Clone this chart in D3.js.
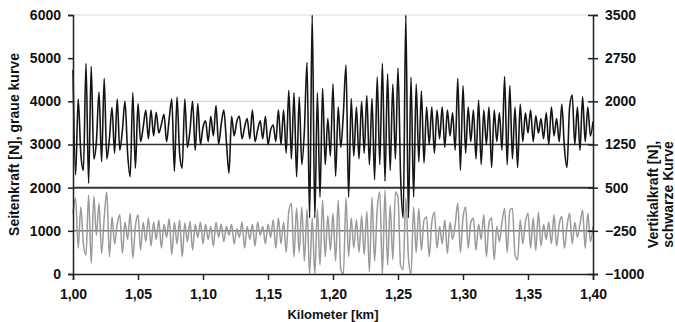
<!DOCTYPE html>
<html>
<head>
<meta charset="utf-8">
<script src="https://cdn.jsdelivr.net/npm/d3@7"></script>
<style>
	body { margin: 0; background: #fff; }
	text { font-family: "Liberation Sans", Arial, sans-serif; font-weight: bold; fill: #111; }
</style>
</head>
<body>
<svg id="chart" width="675" height="322"></svg>
<script>

// Sampling of the track (km), both curves share it:
var kmStart = 1.00;
var kmStep = 0.002;

// Seitenkraft [N] (grey curve, left axis):
var seitenkraft = [
	1400, 1760, 600, 1550, 700, 440, 1830, 250, 1800, 900,
	1640, 480, 1300, 1900, 400, 1320, 700, 1150, 1370, 480,
	1200, 800, 1410, 370, 1100, 1370, 560, 1200, 750, 1300,
	650, 1200, 800, 1250, 600, 1150, 850, 1280, 450, 1200,
	700, 1250, 400, 1180, 750, 1220, 550, 1150, 850, 1200,
	700, 1150, 800, 1100, 650, 1200, 850, 1150, 750, 1100,
	900, 1150, 700, 1050, 850, 1200, 600, 1100, 800, 1150,
	650, 1200, 900, 1100, 700, 1150, 850, 1250, 600, 1300,
	700, 1200, 500, 1450, 1640, 400, 1530, 500, 1550, 300,
	1500, 0, 1300, 0, 1500, 200, 1710, 400, 1350, 550,
	1410, 300, 1710, 100, 0, 1760, 400, 1300, 600, 1250,
	500, 1350, 450, 1450, 50, 1780, 300, 1500, 1900, 0,
	1940, 200, 1600, 330, 1900, 1780, 200, 100, 1760, 400,
	0, 1550, 500, 1520, 550, 1250, 1320, 400, 1200, 1430,
	600, 1100, 700, 1250, 480, 1200, 800, 1150, 1640, 500,
	1300, 1550, 600, 1200, 1290, 550, 1150, 800, 1370, 400,
	1200, 1300, 330, 1100, 750, 1200, 1520, 500, 1480, 1520,
	450, 330, 1250, 700, 1200, 1410, 600, 1300, 550, 1430,
	650, 1150, 800, 1200, 700, 1370, 650, 1150, 1330, 600,
	1100, 1410, 700, 1200, 850, 1150, 1480, 600, 1410, 750,
	1100
];

// Vertikalkraft [N] (black curve, right axis):
var vertikalkraft = [
	2550, 720, 2040, 1100, 800, 2660, 575, 2610, 1000, 1300,
	2160, 950, 2400, 1000, 1350, 1890, 1100, 2040, 1150, 1500,
	2000, 1100, 690, 2150, 840, 1960, 1300, 1550, 1850, 1350,
	1850, 1400, 1810, 1450, 1600, 1775, 1300, 1700, 2040, 785,
	2075, 1100, 840, 2040, 1200, 1500, 2000, 1150, 1960, 1250,
	1550, 1660, 1300, 1740, 1400, 1925, 1250, 1600, 1850, 1300,
	750, 1740, 1400, 1650, 1740, 1350, 1550, 1700, 1350, 1850,
	1300, 1500, 1660, 1350, 1740, 1250, 1500, 1590, 1300, 1850,
	1250, 1850, 1100, 2190, 1000, 2150, 690, 2075, 900, 1500,
	2675, -25, 3500, -25, 2150, 335, 2225, 900, 1700, 1050,
	2300, 700, 1900, 1200, 1800, 2630, 335, 2050, 1050, 1900,
	1000, 2000, 1100, 2100, 900, 2050, 640, 2420, 900, 2660,
	610, 2480, 800, 2300, 1000, 2580, 700, -25, 3500, -25,
	2420, 335, 2300, 950, 2180, 930, 1900, 1250, 1900, 1100,
	1850, 1350, 1900, 1200, 1850, 1400, 1800, 1150, 2400, 800,
	2270, 1100, 1900, 1300, 1850, 1000, 2020, 900, 1850, 1250,
	1900, 850, 1850, 1300, 1800, 1150, 2430, 900, 2270, 1000,
	1900, 850, 1950, 1300, 1800, 1450, 1850, 1300, 1750, 1450,
	1700, 1350, 1800, 1250, 1900, 1400, 1700, 1300, 1950, 1200,
	850, 1900, 2110, 1250, 1900, 1150, 2080, 1300, 1900, 1400,
	1650
];

// Axis ticks:
var kmTicks = [1.00, 1.05, 1.10, 1.15, 1.20, 1.25, 1.30, 1.35, 1.40];
var leftTicks = [0, 1000, 2000, 3000, 4000, 5000, 6000];
var rightTicks = [-1000, -250, 500, 1250, 2000, 2750, 3500];

// Horizontal lines across the plot (left axis units) and their colours:
var gridLines = [
	{ value: 6000, color: "#dcdcdc", width: 1 },
	{ value: 4000, color: "#d0d0d0", width: 1 },
	{ value: 3000, color: "#333", width: 1.5 },
	{ value: 2000, color: "#333", width: 2 },
	{ value: 1000, color: "#777", width: 1.5 }
];

var svg = d3.select("#chart");

var margin = { top: 15, right: 82, bottom: 48, left: 73 };
var width = 675 - margin.left - margin.right;
var height = 322 - margin.top - margin.bottom;

var g = svg.append("g")
	.attr("transform", "translate(" + margin.left + "," + margin.top + ")");

var x = d3.scaleLinear().domain([1.00, 1.40]).range([0, width]);
var yLeft = d3.scaleLinear().domain([0, 6000]).range([height, 0]);
var yRight = d3.scaleLinear().domain([-1000, 3500]).range([height, 0]);

// The grid lines:
g.selectAll(".grid")
	.data(gridLines)
	.enter().append("line")
	.attr("x1", 0)
	.attr("x2", width)
	.attr("y1", function(d) { return yLeft(d.value); })
	.attr("y2", function(d) { return yLeft(d.value); })
	.attr("stroke", function(d) { return d.color; })
	.attr("stroke-width", function(d) { return d.width; });

// The two curves (grey first, black drawn over it), smoothed like the original:
var lineLeft = d3.line()
	.curve(d3.curveMonotoneX)
	.x(function(d, i) { return x(kmStart + i * kmStep); })
	.y(function(d) { return yLeft(d); });

var lineRight = d3.line()
	.curve(d3.curveMonotoneX)
	.x(function(d, i) { return x(kmStart + i * kmStep); })
	.y(function(d) { return yRight(d); });

g.append("path")
	.datum(seitenkraft)
	.attr("fill", "none")
	.attr("stroke", "#9a9a9a")
	.attr("stroke-width", 1.5)
	.attr("d", lineLeft);

g.append("path")
	.datum(vertikalkraft)
	.attr("fill", "none")
	.attr("stroke", "#151515")
	.attr("stroke-width", 1.6)
	.attr("d", lineRight);

// The axes:
var commaFormat = function(d) { return d3.format(".2f")(d).replace(".", ","); };

var xAxis = g.append("g")
	.attr("transform", "translate(0," + height + ")")
	.call(d3.axisBottom(x).tickValues(kmTicks).tickFormat(commaFormat).tickSize(6).tickPadding(9));

var leftAxis = g.append("g")
	.call(d3.axisLeft(yLeft).tickValues(leftTicks).tickFormat(d3.format("d")).tickSize(5).tickPadding(7));

var rightAxis = g.append("g")
	.attr("transform", "translate(" + width + ",0)")
	.call(d3.axisRight(yRight).tickValues(rightTicks).tickFormat(d3.format("d")).tickSize(5).tickPadding(7));

// Right ticks cross the axis line:
rightAxis.selectAll(".tick line").attr("x1", -5);

[xAxis, leftAxis, rightAxis].forEach(function(a) {
	a.select(".domain").attr("stroke", "#222").attr("stroke-width", 1.5);
	a.selectAll(".tick line").attr("stroke", "#222").attr("stroke-width", 1.5);
	a.selectAll("text")
		.style("font-family", "'Liberation Sans', Arial, sans-serif")
		.style("font-weight", "bold")
		.style("font-size", "14px")
		.attr("fill", "#111");
});

// The axis titles:
g.append("text")
	.attr("x", width / 2)
	.attr("y", height + 45)
	.attr("text-anchor", "middle")
	.style("font-size", "13px")
	.text("Kilometer [km]");

svg.append("text")
	.attr("transform", "translate(19," + (margin.top + height / 2) + ") rotate(-90)")
	.attr("text-anchor", "middle")
	.style("font-size", "14px")
	.text("Seitenkraft [N], graue kurve");

var rightTitle = svg.append("text")
	.attr("transform", "translate(658," + (margin.top + height / 2 + 50) + ") rotate(-90)")
	.attr("text-anchor", "middle")
	.style("font-size", "14px");

rightTitle.append("tspan").attr("x", 0).attr("dy", 0).text("Vertikalkraft [N],");
rightTitle.append("tspan").attr("x", 0).attr("dy", 15).text("schwarze Kurve");

</script>
</body>
</html>
